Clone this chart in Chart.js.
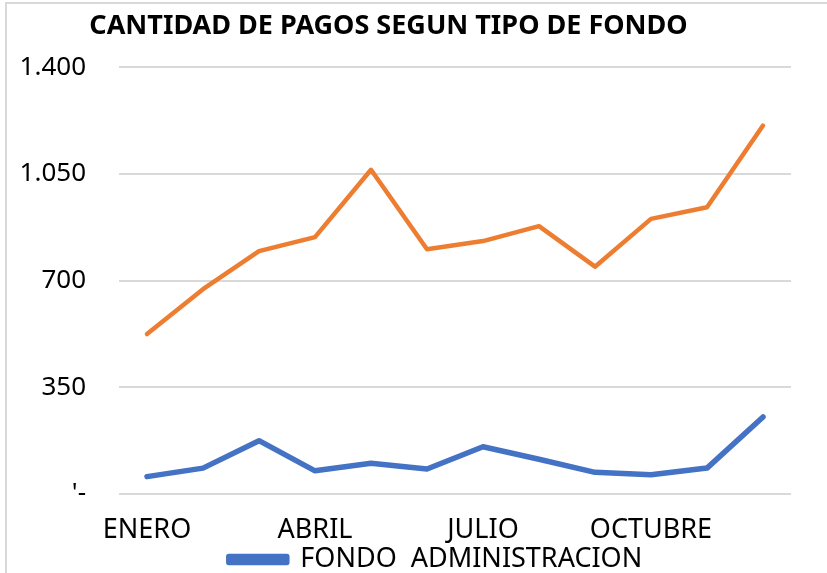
<!DOCTYPE html>
<html>
<head>
<meta charset="utf-8">
<script src="https://cdn.jsdelivr.net/npm/chart.js@4.4.1/dist/chart.umd.min.js"></script>
<style>
  html, body { margin: 0; padding: 0; background: #fff; overflow: hidden; }
  #wrap { position: absolute; left: 0; top: 0; width: 827px; height: 573px; }
  #frame { position: absolute; left: 5px; top: 2px; width: 840px; height: 600px;
           border-left: 2px solid #d9d9d9; border-top: 2px solid #d9d9d9; }
  canvas { position: absolute; left: 0; top: 0; }
</style>
</head>
<body>
<div id="wrap">
  <div id="frame"></div>
  <canvas id="myChart" width="827" height="573"></canvas>
</div>
<script>
const ctx = document.getElementById("myChart");

var meses = ["ENERO", "FEBRERO", "MARZO", "ABRIL", "MAYO", "JUNIO", "JULIO", "AGOSTO", "SEPTIEMBRE", "OCTUBRE", "NOVIEMBRE", "DICIEMBRE"];
var fondoAdministracion = [57, 85, 175, 76, 101, 82, 155, 114, 71, 63, 85, 253];
var otrosFondos = [525, 672, 797, 843, 1064, 803, 830, 879, 746, 903, 941, 1209];
var yTicks = [0, 350, 700, 1050, 1400];

function miles(v) {
    if (v === 0) return "'-";
    return String(v).replace(/\B(?=(\d{3})+(?!\d))/g, ".");
}

// nudge legend and title a bit, as in the original
const ajustes = {
    id: "ajustes",
    afterLayout(chart) {
        chart.legend.left += 40;
        chart.legend.right += 40;
        if (chart.titleBlock) {
            chart.titleBlock.left -= 7;
            chart.titleBlock.right -= 7;
        }
    },
};

new Chart(ctx, {
    type: "line",
    data: {
        labels: meses,
        datasets: [
            {
                label: "FONDO  ADMINISTRACION",
                data: fondoAdministracion,
                borderColor: "#4472C4",
                backgroundColor: "#4472C4",
                borderWidth: 5.5,
                pointRadius: 0,
                borderCapStyle: "round",
                borderJoinStyle: "round",
            },
            {
                label: "OTROS FONDOS",
                data: otrosFondos,
                borderColor: "#ED7D31",
                backgroundColor: "#ED7D31",
                borderWidth: 4.5,
                pointRadius: 0,
                borderCapStyle: "round",
                borderJoinStyle: "round",
            },
        ],
    },
    options: {
        responsive: false,
        animation: false,
        layout: {
            padding: { left: 0, right: 36, top: 0, bottom: -10 },
        },
        scales: {
            x: {
                offset: true,
                grid: { display: false },
                border: { display: false },
                afterFit: function (axis) { axis.height = 50; },
                ticks: {
                    autoSkip: false,
                    maxRotation: 0,
                    padding: 15,
                    color: "#000",
                    font: { size: 27, family: "Noto Sans", lineHeight: 1 },
                    callback: function (v, i) {
                        return i % 3 === 0 ? meses[i] : "";
                    },
                },
            },
            y: {
                min: 0,
                max: 1400,
                afterBuildTicks: function (axis) {
                    axis.ticks = yTicks.map(function (v) { return { value: v }; });
                },
                afterFit: function (axis) { axis.width = 119; },
                grid: { color: "#d9d9d9", lineWidth: 2, drawTicks: false },
                border: { display: false },
                ticks: {
                    padding: 33,
                    color: "#000",
                    font: { size: 26, family: "Noto Sans" },
                    callback: miles,
                },
            },
        },
        plugins: {
            title: {
                display: true,
                text: "CANTIDAD DE PAGOS SEGUN TIPO DE FONDO",
                color: "#000",
                font: { size: 27, weight: "bold", family: "Noto Sans" },
                padding: { top: 10, bottom: 25 },
            },
            legend: {
                position: "bottom",
                labels: {
                    filter: function (item) { return item.datasetIndex === 0; },
                    boxWidth: 58,
                    boxHeight: 6,
                    color: "#000",
                    padding: 2,
                    font: { size: 27, family: "Noto Sans", lineHeight: 1 },
                },
            },
            tooltip: { enabled: false },
        },
    },
    plugins: [ajustes],
});
</script>
</body>
</html>
